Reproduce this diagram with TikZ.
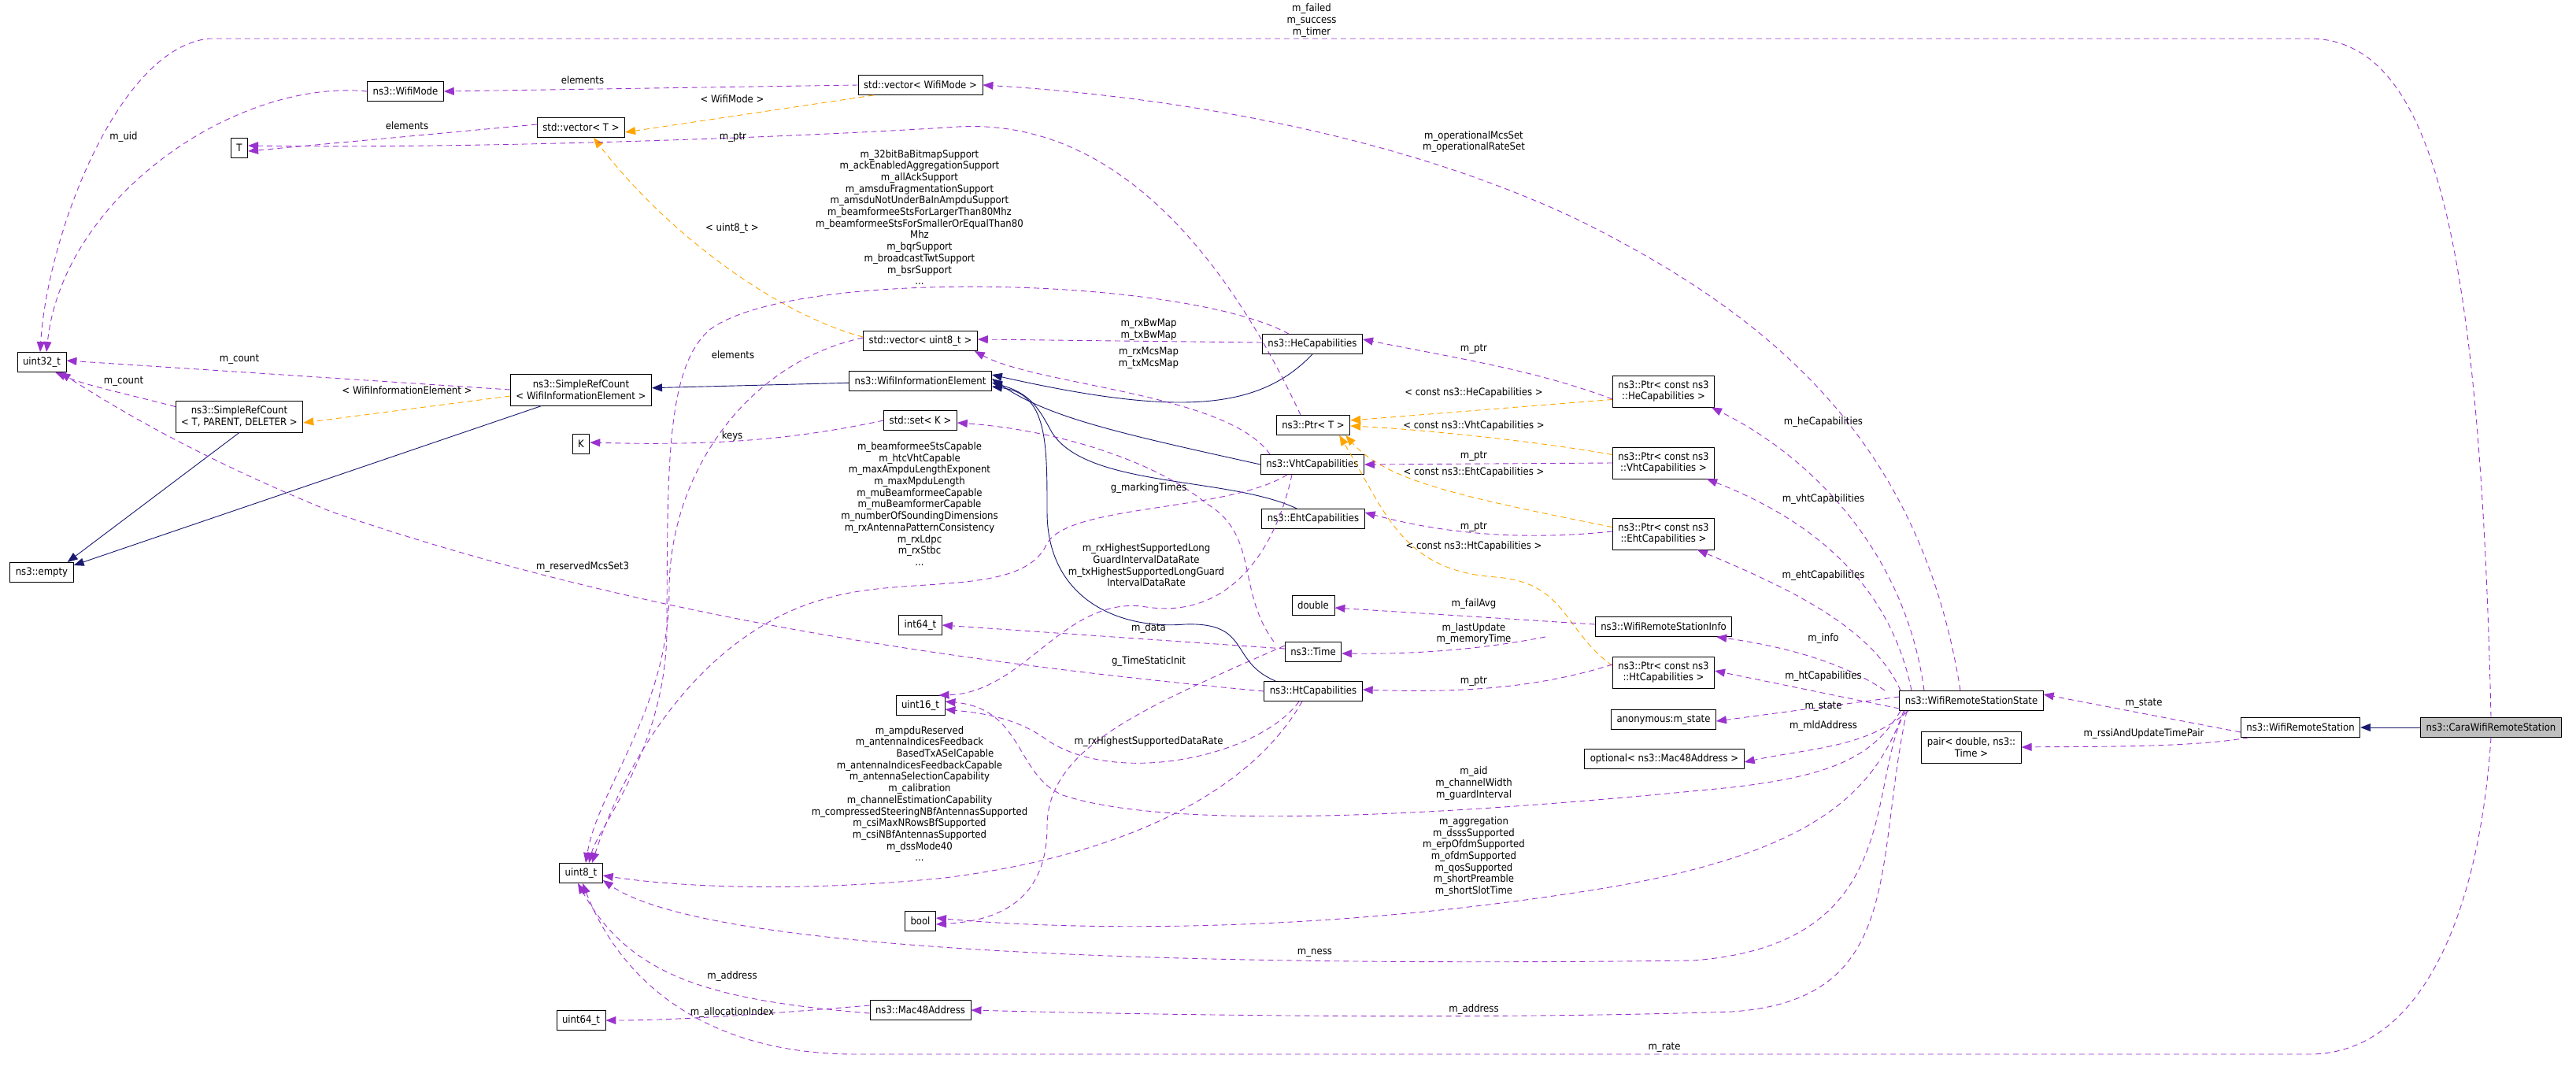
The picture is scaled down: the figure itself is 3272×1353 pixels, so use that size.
\documentclass[tikz,border=0pt]{standalone}
\usepackage{fontspec}
\setmainfont{DejaVu Sans Condensed}
\usetikzlibrary{arrows.meta,positioning}

\definecolor{member}{HTML}{9A32CD}
\definecolor{tmplcol}{HTML}{FFA500}
\definecolor{inhcol}{HTML}{191970}
\definecolor{selfcol}{HTML}{BFBFBF}

\tikzset{
  cls/.style={draw=black, fill=white, line width=0.9pt, minimum height=25pt,
    inner xsep=7pt, inner ysep=2pt, font=\fontsize{13}{14.7}\selectfont},
  cls2/.style={cls, minimum height=40pt, align=center},
  lbl/.style={inner sep=0pt, align=center, font=\fontsize{13}{14.7}\selectfont},
  mem/.style={draw=member, line width=0.9pt, dash pattern=on 7pt off 5pt,
    -{Triangle[length=13pt,width=10pt]}},
  tmpl/.style={mem, draw=tmplcol},
  inh/.style={draw=inhcol, line width=0.9pt, -{Triangle[length=13pt,width=10pt]}}
}

\begin{document}
\begin{tikzpicture}[x=1pt,y=-1pt]
\useasboundingbox (0,0) rectangle (3272,1353);

% Drawing the classes
\node[cls] (u32) at (53,460) {uint32\_t};
\node[cls] (wmode) at (515,116) {ns3::WifiMode};
\node[cls] (vecwm) at (1169,108) {std::vector< WifiMode >};
\node[cls] (vecT) at (738,162) {std::vector< T >};
\node[cls] (T) at (304,188) {T};
\node[cls2] (src) at (738,495) {ns3::SimpleRefCount\\< WifiInformationElement >};
\node[cls2] (srcT) at (304,529) {ns3::SimpleRefCount\\< T, PARENT, DELETER >};
\node[cls] (K) at (738,564) {K};
\node[cls] (empty) at (53,727) {ns3::empty};
\node[cls] (u8) at (738,1109) {uint8\_t};
\node[cls] (u64) at (738,1296) {uint64\_t};
\node[cls] (vecu8) at (1169,433) {std::vector< uint8\_t >};
\node[cls] (wie) at (1169,484) {ns3::WifiInformationElement};
\node[cls] (setK) at (1169,534) {std::set< K >};
\node[cls] (i64) at (1169,794) {int64\_t};
\node[cls] (u16) at (1169,896) {uint16\_t};
\node[cls] (bool) at (1169,1170) {bool};
\node[cls] (mac) at (1169,1283) {ns3::Mac48Address};
\node[cls] (he) at (1667,437) {ns3::HeCapabilities};
\node[cls] (ptrT) at (1668,540) {ns3::Ptr< T >};
\node[cls] (vht) at (1667,590) {ns3::VhtCapabilities};
\node[cls] (eht) at (1668,659) {ns3::EhtCapabilities};
\node[cls] (dbl) at (1668,769) {double};
\node[cls] (time) at (1668,828) {ns3::Time};
\node[cls] (ht) at (1668,878) {ns3::HtCapabilities};
\node[cls2] (phe) at (2113,497) {ns3::Ptr< const ns3\\::HeCapabilities >};
\node[cls2] (pvht) at (2113,588) {ns3::Ptr< const ns3\\::VhtCapabilities >};
\node[cls2] (peht) at (2113,678) {ns3::Ptr< const ns3\\::EhtCapabilities >};
\node[cls] (info) at (2113,796) {ns3::WifiRemoteStationInfo};
\node[cls2] (pht) at (2113,854) {ns3::Ptr< const ns3\\::HtCapabilities >};
\node[cls] (anon) at (2113,914) {anonymous:m\_state};
\node[cls] (opt) at (2114,964) {optional< ns3::Mac48Address >};
\node[cls] (wrss) at (2504,890) {ns3::WifiRemoteStationState};
\node[cls2] (pair) at (2504,949) {pair< double, ns3::\\Time >};
\node[cls] (wrs) at (2922,924) {ns3::WifiRemoteStation};
\node[cls, fill=selfcol] (cara) at (3164,924) {ns3::CaraWifiRemoteStation};

% Inheritance
\draw[inh] (cara) -- (wrs);
\draw[inh] (wie) -- (src);
\draw[inh] (srcT.south) -- ([xshift=-8]empty.north east);
\draw[inh] (src.south west) ++(40,0) -- ([yshift=-4]empty.north east);
\draw[inh] (he.south) .. controls (1600,520) and (1500,530) .. ([yshift=8]wie.east);
\draw[inh] (vht.west) .. controls (1420,550) and (1330,530) .. ([yshift=3]wie.east);
\draw[inh] (eht.north west) ++(45,0) .. controls (1561,605) and (1380,620) .. (1336,549) .. controls (1320,520) and (1310,500) .. ([yshift=-2]wie.east);
\draw[inh] (ht.north west) ++(15,0) .. controls (1560,840) and (1590,790) .. (1505,793) .. controls (1420,800) and (1330,760) .. (1330,650) .. controls (1330,560) and (1330,500) .. ([yshift=-7]wie.east);

% Template instances
\draw[tmpl] (vecwm.south west) ++(20,0) -- ([yshift=-6]vecT.east);
\draw[tmpl] ([yshift=-8]vecu8.north west) .. controls (990,400) and (850,300) .. ([xshift=16]vecT.south);
\draw[tmpl] ([yshift=-8]src.west) -- ([yshift=-8]srcT.east);
\draw[tmpl] ([yshift=10]phe.south west) -- ([yshift=6]ptrT.east);
\draw[tmpl] ([yshift=-10]pvht.north west) .. controls (1950,560) and (1800,545) .. ([yshift=-1]ptrT.east);
\draw[tmpl] ([yshift=-12]peht.north west) .. controls (1850,630) and (1760,610) .. ([xshift=-6]ptrT.south east);
\draw[tmpl] ([yshift=-12]pht.north west) .. controls (1985,800) and (1990,740) .. (1900,733) .. controls (1780,725) and (1760,650) .. ([xshift=-14]ptrT.south east);

% Members
\draw[mem] (cara.north) .. controls (3150,300) and (3090,49) .. (2933,49) -- (266,49) .. controls (150,60) and (60,300) .. ([xshift=-2]u32.north);
\draw[mem] (wmode.west) .. controls (300,100) and (80,250) .. ([xshift=6]u32.north);
\draw[mem] (vecwm.west) -- (wmode.east);
\draw[mem] ([yshift=4]vecT.west) -- ([yshift=-4]T.east);
\draw[mem] ([xshift=-16]ptrT.north) .. controls (1560,330) and (1420,150) .. (1217,161) .. controls (1000,175) and (600,189) .. ([yshift=3]T.east);
\draw[mem] ([xshift=-14]wrss.north) .. controls (2440,560) and (2250,400) .. (2000,277) .. controls (1750,160) and (1450,120) .. (vecwm.east);
\draw[mem] ([yshift=4]vecu8.west) .. controls (950,460) and (850,600) .. (850,750) .. controls (850,900) and (760,1000) .. ([xshift=6]u8.north);
\draw[mem] ([xshift=-30]he.north) .. controls (1500,350) and (1000,340) .. (900,420) .. controls (845,470) and (848,600) .. (847,800) .. controls (846,950) and (760,1050) .. ([xshift=10]u8.north);
\draw[mem] ([yshift=2]he.west) -- ([yshift=2]vecu8.east);
\draw[mem] ([xshift=12]vht.north west) .. controls (1560,500) and (1320,490) .. ([xshift=-4]vecu8.south east);
\draw[mem] ([yshift=-6]src.west) ++(0,-6) -- ([yshift=2]u32.east);
\draw[mem] ([yshift=-8]srcT.north west) .. controls (160,500) and (110,490) .. ([xshift=-14]u32.south east);
\draw[mem] (setK.west) .. controls (1000,560) and (900,566) .. ([yshift=2]K.east);
\draw[mem] ([xshift=-32]vht.south) .. controls (1560,650) and (1360,640) .. (1330,690) .. controls (1300,760) and (1150,730) .. (1050,760) .. controls (900,800) and (800,950) .. ([xshift=14]u8.north);
\draw[mem] ([xshift=-50]time.north) .. controls (1570,750) and (1600,680) .. (1533,640) .. controls (1460,580) and (1330,545) .. ([yshift=-3]setK.east);
\draw[mem] ([xshift=-26]vht.south) .. controls (1620,700) and (1560,790) .. (1450,770) .. controls (1350,760) and (1300,880) .. ([xshift=-8]u16.north east);
\draw[mem] ([yshift=4]time.west) -- (i64.east);
\draw[mem] ([yshift=8]time.west) .. controls (1450,900) and (1330,950) .. (1330,1050) .. controls (1330,1150) and (1260,1170) .. ([yshift=-4]bool.east);
\draw[mem] (ht.west) .. controls (1200,840) and (800,780) .. (421,650) .. controls (250,580) and (150,520) .. ([xshift=-8]u32.south east);
\draw[mem] ([xshift=-18]ht.south) .. controls (1600,960) and (1420,1000) .. (1330,940) .. controls (1290,910) and (1240,905) .. ([yshift=-5]u16.east);
\draw[mem] ([xshift=-14]ht.south) .. controls (1580,1020) and (1400,1090) .. (1200,1115) .. controls (1000,1135) and (850,1125) .. ([yshift=-3]u8.east);
\draw[mem] ([xshift=-90]wrss.south) .. controls (2380,960) and (2330,985) .. (2200,1000) .. controls (1900,1030) and (1500,1060) .. (1350,1010) .. controls (1290,985) and (1300,900) .. ([yshift=5]u16.east);
\draw[mem] ([xshift=-86]wrss.south) .. controls (2380,1010) and (2300,1090) .. (2000,1134) .. controls (1700,1180) and (1400,1185) .. ([yshift=4]bool.east);
\draw[mem] ([xshift=-84]wrss.south) .. controls (2370,1000) and (2420,1200) .. (2150,1220) .. controls (1500,1228) and (900,1210) .. ([yshift=-9]u8.east);
\draw[mem] ([xshift=-82]wrss.south) .. controls (2380,1100) and (2420,1270) .. (2200,1285) .. controls (1900,1295) and (1500,1290) .. (mac.east);
\draw[mem] ([yshift=-4]mac.west) .. controls (900,1270) and (800,1240) .. ([xshift=-4]u8.south);
\draw[mem] ([yshift=6]mac.west) .. controls (950,1290) and (850,1296) .. (u64.east);
\draw[mem] (cara.south) .. controls (3150,1150) and (3080,1339) .. (2933,1339) -- (1087,1339) .. controls (900,1339) and (790,1250) .. ([xshift=2]u8.south);
\draw[mem] ([yshift=-10]phe.west) .. controls (1950,470) and (1850,455) .. ([yshift=6]he.east);
\draw[mem] (pvht.west) -- (vht.east);
\draw[mem] ([yshift=3]peht.west) .. controls (1950,685) and (1850,682) .. ([yshift=8]eht.east);
\draw[mem] ([yshift=10]pht.west) .. controls (1950,875) and (1850,880) .. ([yshift=2]ht.east);
\draw[mem] ([yshift=3]info.west) -- ([yshift=-3]dbl.east);
\draw[mem] ([xshift=-150]info.south) .. controls (1880,825) and (1800,831) .. ([yshift=-2]time.east);
\draw[mem] ([xshift=-60]wrss.north) .. controls (2420,700) and (2300,580) .. ([xshift=-4]phe.south east);
\draw[mem] ([xshift=-76]wrss.north) .. controls (2400,740) and (2300,660) .. ([xshift=-10]pvht.south east);
\draw[mem] ([xshift=-90]wrss.north) .. controls (2380,800) and (2280,750) .. ([xshift=-22]peht.south east);
\draw[mem] ([xshift=-110]wrss.north) .. controls (2340,840) and (2260,820) .. ([xshift=-20]info.south east);
\draw[mem] ([yshift=-10]wrss.west) -- ([yshift=2]pht.east);
\draw[mem] ([yshift=5]wrss.west) -- ([yshift=-2]anon.east);
\draw[mem] ([xshift=-80]wrss.south) .. controls (2370,950) and (2300,950) .. ([yshift=-4]opt.east);
\draw[mem] ([yshift=-6]wrs.west) -- ([yshift=8]wrss.east);
\draw[mem] ([xshift=10]wrs.south west) .. controls (2780,950) and (2650,948) .. ([yshift=0]pair.east);

% Member labels
\node[lbl] (lfail) at (1666,26) {m\_failed\\m\_success\\m\_timer};
\node[lbl] (luid) at (157,174) {m\_uid};
\node[lbl] (lel1) at (740,102) {elements};
\node[lbl] (lwm) at (930,126) {< WifiMode >};
\node[lbl] (lel2) at (517,160) {elements};
\node[lbl] (lptr) at (931,174) {m\_ptr};
\node[lbl] (lopset) at (1872,180) {m\_operationalMcsSet\\m\_operationalRateSet};
\node[lbl] (lhelist) at (1168,276) {m\_32bitBaBitmapSupport\\m\_ackEnabledAggregationSupport\\m\_allAckSupport\\m\_amsduFragmentationSupport\\m\_amsduNotUnderBaInAmpduSupport\\m\_beamformeeStsForLargerThan80Mhz\\m\_beamformeeStsForSmallerOrEqualThan80\\Mhz\\m\_bqrSupport\\m\_broadcastTwtSupport\\m\_bsrSupport\\...};
\node[lbl] (lu8t) at (930,290) {< uint8\_t >};
\node[lbl] (lel3) at (931,451) {elements};
\node[lbl] (lbw) at (1459,419) {m\_rxBwMap\\m\_txBwMap};
\node[lbl] (lmcs) at (1459,455) {m\_rxMcsMap\\m\_txMcsMap};
\node[lbl] (lcnt1) at (304,456) {m\_count};
\node[lbl] (lcnt2) at (157,484) {m\_count};
\node[lbl] (lwie) at (517,496) {< WifiInformationElement >};
\node[lbl] (lkeys) at (930,554) {keys};
\node[lbl] (lhe1) at (1872,443) {m\_ptr};
\node[lbl] (lche) at (1872,499) {< const ns3::HeCapabilities >};
\node[lbl] (lcvht) at (1872,541) {< const ns3::VhtCapabilities >};
\node[lbl] (lvht1) at (1872,579) {m\_ptr};
\node[lbl] (lceht) at (1872,600) {< const ns3::EhtCapabilities >};
\node[lbl] (leht1) at (1872,669) {m\_ptr};
\node[lbl] (lcht) at (1872,694) {< const ns3::HtCapabilities >};
\node[lbl] (lhecap) at (2316,536) {m\_heCapabilities};
\node[lbl] (lvhtcap) at (2316,634) {m\_vhtCapabilities};
\node[lbl] (lehtcap) at (2316,731) {m\_ehtCapabilities};
\node[lbl] (lvhtlist) at (1168,640) {m\_beamformeeStsCapable\\m\_htcVhtCapable\\m\_maxAmpduLengthExponent\\m\_maxMpduLength\\m\_muBeamformeeCapable\\m\_muBeamformerCapable\\m\_numberOfSoundingDimensions\\m\_rxAntennaPatternConsistency\\m\_rxLdpc\\m\_rxStbc\\...};
\node[lbl] (lmark) at (1459,620) {g\_markingTimes};
\node[lbl] (lrxlong) at (1456,718) {m\_rxHighestSupportedLong\\GuardIntervalDataRate\\m\_txHighestSupportedLongGuard\\IntervalDataRate};
\node[lbl] (lrsv) at (740,720) {m\_reservedMcsSet3};
\node[lbl] (lfavg) at (1872,767) {m\_failAvg};
\node[lbl] (ldata) at (1459,798) {m\_data};
\node[lbl] (lupd) at (1872,805) {m\_lastUpdate\\m\_memoryTime};
\node[lbl] (linfo) at (2316,811) {m\_info};
\node[lbl] (lstatic) at (1459,840) {g\_TimeStaticInit};
\node[lbl] (lht1) at (1872,865) {m\_ptr};
\node[lbl] (lhtcap) at (2316,859) {m\_htCapabilities};
\node[lbl] (lst1) at (2316,897) {m\_state};
\node[lbl] (lst2) at (2723,893) {m\_state};
\node[lbl] (lmld) at (2316,922) {m\_mldAddress};
\node[lbl] (lrssi) at (2723,932) {m\_rssiAndUpdateTimePair};
\node[lbl] (lrxdr) at (1459,942) {m\_rxHighestSupportedDataRate};
\node[lbl] (lhtlist) at (1168,1008) {m\_ampduReserved\\m\_antennaIndicesFeedback\\\hspace*{5em}BasedTxASelCapable\\m\_antennaIndicesFeedbackCapable\\m\_antennaSelectionCapability\\m\_calibration\\m\_channelEstimationCapability\\m\_compressedSteeringNBfAntennasSupported\\m\_csiMaxNRowsBfSupported\\m\_csiNBfAntennasSupported\\m\_dssMode40\\...};
\node[lbl] (laid) at (1872,995) {m\_aid\\m\_channelWidth\\m\_guardInterval};
\node[lbl] (laggr) at (1872,1088) {m\_aggregation\\m\_dsssSupported\\m\_erpOfdmSupported\\m\_ofdmSupported\\m\_qosSupported\\m\_shortPreamble\\m\_shortSlotTime};
\node[lbl] (lness) at (1670,1210) {m\_ness};
\node[lbl] (laddr1) at (930,1240) {m\_address};
\node[lbl] (laddr2) at (1872,1282) {m\_address};
\node[lbl] (lalloc) at (930,1286) {m\_allocationIndex};
\node[lbl] (lrate) at (2114,1330) {m\_rate};

\end{tikzpicture}
\end{document}
